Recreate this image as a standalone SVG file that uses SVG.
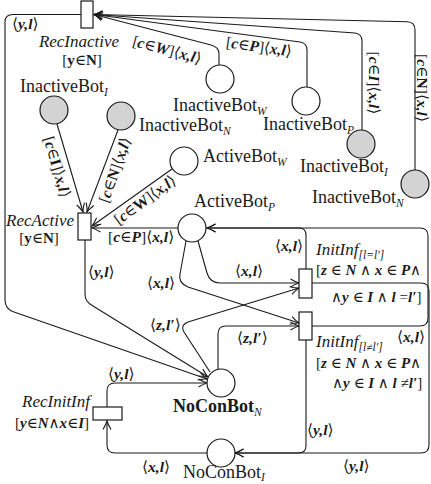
<svg xmlns="http://www.w3.org/2000/svg" width="431" height="484" viewBox="0 0 431 484">
<style>
text{font-family:"Liberation Serif","DejaVu Serif",serif;fill:#1a1a1a}
.n{font-size:18px}
.nb{font-size:18px;font-weight:bold}
.it{font-size:17px;font-style:italic}
.g{font-size:15px}
.e{font-size:15.5px}
.bi{font-weight:bold;font-style:italic}
.b{font-weight:bold}
.sub{font-size:11.5px;font-style:italic}
.pl{fill:#fff;stroke:#1a1a1a;stroke-width:1.2}
.gr{fill:#d3d3d3;stroke:#1a1a1a;stroke-width:1.2}
.tr{fill:#fff;stroke:#1a1a1a;stroke-width:1.2}
.c path{fill:none;stroke:#1a1a1a;stroke-width:1.1;marker-end:url(#a)}
</style>
<defs>
<marker id="a" markerWidth="12" markerHeight="10" viewBox="-10 -5 12 10" refX="0" refY="0" orient="auto" markerUnits="userSpaceOnUse">
<path d="M -8.5 -4 Q -3 -0.8 0 0 Q -3 0.8 -8.5 4" fill="none" stroke="#1a1a1a" stroke-width="1.1"/>
</marker>
</defs>

<g id="connectors" class="c">
<path d="M 415 170 L 415 30 Q 415 22 407 21.8 L 94 14.5"/>
<path d="M 362 130 L 362 41 Q 362 34 355 33 L 94 14.5"/>
<path d="M 307 87 L 307 50 Q 307 43 300 42 L 94 14.5"/>
<path d="M 219 65 L 219 54 Q 219 47 211 45 L 94 14.5"/>
<path d="M 57 124 L 83 212"/>
<path d="M 118 130 L 87 212"/>
<path d="M 172 169 L 92 226"/>
<path d="M 178 228 L 92 228"/>
<path d="M 85 240 L 85 294 Q 85 302 93 306 L 208 377"/>
<path d="M 81 14.5 L 13 14.5 Q 5 14.5 5 22 L 5 300 Q 5 309 14 312 L 207 379"/>
<path d="M 107 407 L 107 391 Q 107 383 115 383 L 207 383"/>
<path d="M 207 453 L 115 453 Q 107 453 107 445 L 107 421"/>
<path d="M 198 241 L 207 273 Q 210 283 220 283 L 299 283"/>
<path d="M 186 241 L 180 274 Q 178 283 188 287 L 299 323"/>
<path d="M 210 372 L 184 332 Q 180 325 188 322 L 299 288"/>
<path d="M 218 369 L 218 334 Q 218 326 226 326 L 299 326"/>
<path d="M 306 269 L 306 235 Q 306 228 299 228 L 207 228"/>
<path d="M 312 326 L 420 326 Q 428 326 428 318 L 428 236 Q 428 228 420 228 L 207 228"/>
<path d="M 312 283 L 421 283 Q 429 283 429 291 L 429 445 Q 429 453 421 453 L 235 453"/>
<path d="M 306 340 L 306 446 Q 306 453 298 453 L 235 453"/>
</g>

<g id="edge-labels">
<text class="e" x="12" y="29"><tspan>⟨</tspan><tspan class="bi">y,l</tspan><tspan>⟩</tspan></text>
<text class="e" text-anchor="middle" transform="translate(167,50) rotate(15)" x="0" y="5">[<tspan class="bi">c</tspan>∈<tspan class="bi">W</tspan>]⟨<tspan class="bi">x,l</tspan>⟩</text>
<text class="e" text-anchor="middle" transform="translate(259,47) rotate(8)" x="0" y="5">[<tspan class="bi">c</tspan>∈<tspan class="bi">P</tspan>]⟨<tspan class="bi">x,l</tspan>⟩</text>
<text class="e" text-anchor="middle" transform="translate(374,83) rotate(90)" x="0" y="5">[<tspan class="bi">c</tspan>∈<tspan class="bi">I</tspan>]⟨<tspan class="bi">x,l</tspan>⟩</text>
<text class="e" text-anchor="middle" font-size="14.5" transform="translate(421,88) rotate(90)" x="0" y="4.5">[<tspan class="bi">c</tspan>∈<tspan class="b">N</tspan>]⟨<tspan class="bi">x,l</tspan>⟩</text>
<text class="e" text-anchor="middle" transform="translate(57,167) rotate(73.7)" x="0" y="5">[<tspan class="bi">c</tspan>∈<tspan class="b">I</tspan>]⟩<tspan class="bi">x,l</tspan>⟩</text>
<text class="e" text-anchor="middle" transform="translate(115,170) rotate(-70.5)" x="0" y="5">[<tspan class="bi">c</tspan>∈<tspan class="b">N</tspan>]⟨<tspan class="bi">x,l</tspan>⟩</text>
<text class="e" text-anchor="middle" transform="translate(145,200) rotate(-36)" x="0" y="5">[<tspan class="bi">c</tspan>∈<tspan class="b">W</tspan>]⟨<tspan class="bi">x,l</tspan>⟩</text>
<text class="e" x="108" y="242">[<tspan class="bi">c</tspan>∈<tspan class="bi">P</tspan>]⟨<tspan class="bi">x,l</tspan>⟩</text>
<text class="e" x="88" y="277">⟨<tspan class="bi">y,l</tspan>⟩</text>
<text class="e" x="275" y="251">⟨<tspan class="bi">x,l</tspan>⟩</text>
<text class="e" x="235" y="276">⟨<tspan class="bi">x,l</tspan>⟩</text>
<text class="e" x="147" y="288">⟨<tspan class="bi">x,l</tspan>⟩</text>
<text class="e" x="150" y="330">⟨<tspan class="bi">z,l′</tspan>⟩</text>
<text class="e" x="237" y="343">⟨<tspan class="bi">z,l′</tspan>⟩</text>
<text class="e" x="397" y="342">⟨<tspan class="bi">x,l</tspan>⟩</text>
<text class="e" x="307" y="435">⟨<tspan class="bi">y,l</tspan>⟩</text>
<text class="e" x="343" y="471">⟨<tspan class="bi">y,l</tspan>⟩</text>
<text class="e" x="108" y="379">⟨<tspan class="bi">y,l</tspan>⟩</text>
<text class="e" x="142" y="472">⟨<tspan class="bi">x,l</tspan>⟩</text>
</g>

<g id="RecInactive">
<rect class="tr" x="81" y="1" width="12" height="27"/>
<text class="it" x="79" y="47" text-anchor="middle">RecInactive</text>
<text class="g" x="82" y="65" text-anchor="middle">[<tspan class="b">y</tspan>∈<tspan class="b">N</tspan>]</text>
</g>
<g id="RecActive">
<rect class="tr" x="78" y="213" width="13" height="27"/>
<text class="it" x="74" y="226" text-anchor="end">RecActive</text>
<text class="g" x="39" y="243" text-anchor="middle">[<tspan class="b">y</tspan>∈<tspan class="b">N</tspan>]</text>
</g>
<g id="InitInf_eq">
<rect class="tr" x="299" y="269" width="13" height="29"/>
<text class="it" x="316" y="255">InitInf<tspan class="sub" dy="4">[l=l′]</tspan></text>
<text class="g" x="316" y="275">[<tspan class="bi">z</tspan> ∈ <tspan class="bi">N</tspan> ∧ <tspan class="bi">x</tspan> ∈ <tspan class="bi">P</tspan>∧</text>
<text class="g" x="331" y="302">∧<tspan class="bi">y</tspan> ∈ <tspan class="bi">I</tspan> ∧ <tspan class="bi">l</tspan> =<tspan class="bi">l′</tspan>]</text>
</g>
<g id="InitInf_neq">
<rect class="tr" x="299" y="312" width="13" height="28"/>
<text class="it" x="316" y="347">InitInf<tspan class="sub" dy="4">[l≠l′]</tspan></text>
<text class="g" x="316" y="368">[<tspan class="bi">z</tspan> ∈ <tspan class="bi">N</tspan> ∧ <tspan class="bi">x</tspan> ∈ <tspan class="bi">P</tspan>∧</text>
<text class="g" x="332" y="388">∧<tspan class="bi">y</tspan> ∈ <tspan class="bi">I</tspan> ∧ <tspan class="bi">l</tspan> ≠<tspan class="bi">l′</tspan>]</text>
</g>
<g id="RecInitInf">
<rect class="tr" x="93" y="407" width="29" height="13"/>
<text class="it" x="90" y="407" text-anchor="end">RecInitInf</text>
<text class="g" x="89" y="428" text-anchor="end">[<tspan class="bi">y</tspan>∈<tspan class="bi">N</tspan>∧<tspan class="bi">x</tspan>∈<tspan class="bi">I</tspan>]</text>
</g>

<g id="InactiveBot_I_left">
<circle class="gr" cx="54" cy="110" r="14"/>
<text class="n" x="20" y="92">InactiveBot<tspan class="sub" dy="4">I</tspan></text>
</g>
<g id="InactiveBot_N_left">
<circle class="gr" cx="121" cy="116" r="14"/>
<text class="n" x="139" y="131">InactiveBot<tspan class="sub" dy="4">N</tspan></text>
</g>
<g id="InactiveBot_W">
<circle class="pl" cx="220" cy="79" r="14"/>
<text class="n" x="173" y="111">InactiveBot<tspan class="sub" dy="4">W</tspan></text>
</g>
<g id="InactiveBot_P">
<circle class="pl" cx="306" cy="101" r="14"/>
<text class="n" x="263" y="130">InactiveBot<tspan class="sub" dy="4">P</tspan></text>
</g>
<g id="InactiveBot_I_right">
<circle class="gr" cx="361" cy="144" r="14"/>
<text class="n" x="300" y="172">InactiveBot<tspan class="sub" dy="4">I</tspan></text>
</g>
<g id="InactiveBot_N_right">
<circle class="gr" cx="415" cy="184" r="14"/>
<text class="n" x="312" y="203">InactiveBot<tspan class="sub" dy="4">N</tspan></text>
</g>
<g id="ActiveBot_W">
<circle class="pl" cx="184" cy="161" r="14"/>
<text class="n" x="203" y="162">ActiveBot<tspan class="sub" dy="4">W</tspan></text>
</g>
<g id="ActiveBot_P">
<circle class="pl" cx="192" cy="228" r="14"/>
<text class="n" x="194" y="207">ActiveBot<tspan class="sub" dy="4">P</tspan></text>
</g>
<g id="NoConBot_N">
<circle class="pl" cx="221" cy="383" r="14"/>
<text class="nb" x="173" y="412">NoConBot<tspan class="sub" dy="4" font-weight="normal">N</tspan></text>
</g>
<g id="NoConBot_I">
<circle class="pl" cx="221" cy="453" r="14"/>
<text class="n" x="183" y="478">NoConBot<tspan class="sub" dy="3">I</tspan></text>
</g>
</svg>
